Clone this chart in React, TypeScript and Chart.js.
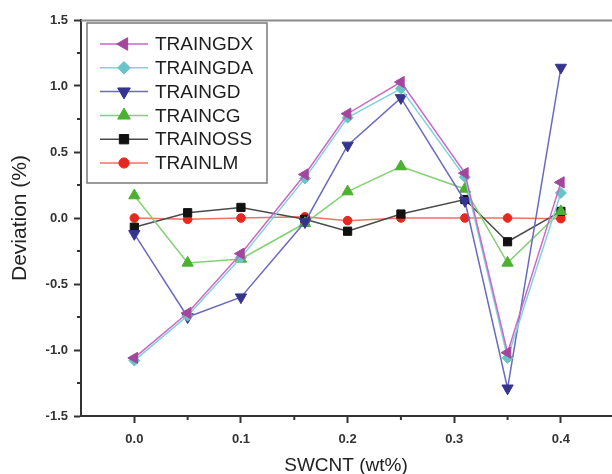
import React, { useEffect, useRef } from 'react';
import { Chart, registerables } from 'chart.js';
import { drawPoint } from 'chart.js/helpers';

Chart.register(...registerables);

// ---- data ----
const xValues = [0, 0.05, 0.1, 0.16, 0.2, 0.25, 0.31, 0.35, 0.4];
const traingdx = [-1.06, -0.72, -0.27, 0.33, 0.79, 1.03, 0.34, -1.02, 0.27];
const traingda = [-1.08, -0.74, -0.3, 0.3, 0.76, 0.98, 0.31, -1.06, 0.19];
const traingd = [-0.12, -0.75, -0.6, -0.03, 0.55, 0.91, 0.13, -1.29, 1.14];
const traincg = [0.17, -0.34, -0.31, -0.04, 0.2, 0.39, 0.22, -0.34, 0.05];
const trainoss = [-0.07, 0.04, 0.08, -0.01, -0.1, 0.03, 0.14, -0.18, 0.05];
const trainlm = [0.0, -0.01, 0.0, 0.01, -0.02, 0.0, 0.0, 0.0, -0.005];

const xMajorTicks = [0, 0.1, 0.2, 0.3, 0.4];
const xMinorTicks = [0.05, 0.15, 0.25, 0.35];
const yMajorTicks = [-1.5, -1.0, -0.5, 0, 0.5, 1.0, 1.5];
const yMinorTicks = [-1.25, -0.75, -0.25, 0.25, 0.75, 1.25];

const xTitle = 'SWCNT (wt%)';
const yTitle = 'Deviation (%)';

const FONT = "'Liberation Sans', Arial, Helvetica, sans-serif";

const seriesDefs = [
  { label: 'TRAINGDX', values: traingdx, line: '#cc66c8', marker: '#a4469c', style: 'triangle', rotation: 270, radius: 6.5 },
  { label: 'TRAINGDA', values: traingda, line: '#7ed2da', marker: '#68c4c8', style: 'rectRot', rotation: 0, radius: 5.5 },
  { label: 'TRAINGD', values: traingd, line: '#6a6ac0', marker: '#35358f', style: 'triangle', rotation: 180, radius: 6.5 },
  { label: 'TRAINCG', values: traincg, line: '#84d074', marker: '#4cb032', style: 'triangle', rotation: 0, radius: 6.5 },
  { label: 'TRAINOSS', values: trainoss, line: '#4a4a4a', marker: '#111111', style: 'rect', rotation: 0, radius: 5.8 },
  { label: 'TRAINLM', values: trainlm, line: '#f07262', marker: '#e8281e', style: 'circle', rotation: 0, radius: 4.3 },
];

const frameAndLegendPlugin = {
  id: 'frameAndLegend',
  afterDraw(chart: any) {
    const ctx = chart.ctx;
    const area = chart.chartArea;
    const xs = chart.scales.x;
    const ys = chart.scales.y;
    ctx.save();
    // top frame line
    ctx.strokeStyle = '#8a8a8a';
    ctx.lineWidth = 2;
    ctx.beginPath();
    ctx.moveTo(area.left, area.top + 0.5);
    ctx.lineTo(chart.width, area.top + 0.5);
    ctx.stroke();
    // minor ticks
    ctx.strokeStyle = '#333';
    ctx.lineWidth = 2;
    xMinorTicks.forEach((v) => {
      const px = xs.getPixelForValue(v);
      ctx.beginPath();
      ctx.moveTo(px, area.bottom);
      ctx.lineTo(px, area.bottom + 4);
      ctx.stroke();
    });
    yMinorTicks.forEach((v) => {
      const py = ys.getPixelForValue(v);
      ctx.beginPath();
      ctx.moveTo(area.left, py);
      ctx.lineTo(area.left - 4, py);
      ctx.stroke();
    });
    // legend box
    const x0 = area.left + 6;
    const y0 = area.top + 3;
    const w = 180;
    const h = 160;
    ctx.fillStyle = '#ffffff';
    ctx.fillRect(x0, y0, w, h);
    ctx.strokeStyle = '#7a7a7a';
    ctx.lineWidth = 1.5;
    ctx.strokeRect(x0, y0, w, h);
    chart.data.datasets.forEach((ds: any, i: number) => {
      const cy = y0 + 21 + i * 23.8;
      ctx.strokeStyle = ds.borderColor;
      ctx.lineWidth = 1.5;
      ctx.beginPath();
      ctx.moveTo(x0 + 13, cy);
      ctx.lineTo(x0 + 61, cy);
      ctx.stroke();
      ctx.fillStyle = ds.pointBackgroundColor;
      ctx.strokeStyle = ds.pointBorderColor;
      ctx.lineWidth = 1;
      drawPoint(ctx, { pointStyle: ds.pointStyle, rotation: ds.pointRotation, radius: ds.pointRadius + 0.8, borderWidth: 1 }, x0 + 37, cy);
      ctx.fillStyle = '#1e1e1e';
      ctx.font = `19px ${FONT}`;
      ctx.textAlign = 'left';
      ctx.textBaseline = 'middle';
      ctx.fillText(ds.label, x0 + 68, cy + 1);
    });
    ctx.restore();
  },
};

export default function App() {
  const canvasRef = useRef<HTMLCanvasElement | null>(null);

  useEffect(() => {
    if (!canvasRef.current) return;
    const datasets = seriesDefs.map((s) => ({
      label: s.label,
      data: xValues.map((x, i) => ({ x, y: s.values[i] })),
      borderColor: s.line,
      backgroundColor: s.marker,
      borderWidth: 1.5,
      pointStyle: s.style,
      pointRotation: s.rotation,
      pointRadius: s.radius,
      pointBackgroundColor: s.marker,
      pointBorderColor: s.marker,
      pointBorderWidth: 1,
      tension: 0,
      fill: false,
      clip: false as any,
    }));

    const chart = new Chart(canvasRef.current, {
      type: 'line',
      data: { datasets },
      options: {
        animation: false,
        responsive: false,
        maintainAspectRatio: false,
        layout: { autoPadding: false, padding: { top: 20, right: 1, left: 0, bottom: 0 } },
        plugins: { legend: { display: false }, tooltip: { enabled: false } },
        scales: {
          x: {
            type: 'linear',
            min: -0.05,
            max: 0.447,
            afterBuildTicks: (s: any) => {
              s.ticks = xMajorTicks.map((v) => ({ value: v }));
            },
            afterFit: (s: any) => {
              s.height = 58;
              s.paddingLeft = 0;
              s.paddingRight = 0;
            },
            grid: { display: true, drawOnChartArea: false, drawTicks: true, tickLength: 7, tickWidth: 2, tickColor: '#333' },
            border: { display: true, color: '#333', width: 2 },
            ticks: {
              padding: 9,
              color: '#333',
              autoSkip: false,
              maxRotation: 0,
              font: { family: FONT, size: 13, weight: 'bold' },
              callback: (v: any) => Number(v).toFixed(1),
            },
            title: {
              display: true,
              text: xTitle,
              color: '#222',
              font: { family: FONT, size: 19 },
              padding: { top: 0, bottom: -3 },
            },
          },
          y: {
            type: 'linear',
            min: -1.5,
            max: 1.5,
            afterBuildTicks: (s: any) => {
              s.ticks = yMajorTicks.map((v) => ({ value: v }));
            },
            afterFit: (s: any) => {
              s.width = 81;
              s.paddingTop = 0;
              s.paddingBottom = 0;
            },
            grid: { display: true, drawOnChartArea: false, drawTicks: true, tickLength: 7, tickWidth: 2, tickColor: '#333' },
            border: { display: true, color: '#333', width: 2 },
            ticks: {
              padding: 6,
              color: '#333',
              font: { family: FONT, size: 13, weight: 'bold' },
              callback: (v: any) => Number(v).toFixed(1),
            },
            title: {
              display: true,
              text: yTitle,
              color: '#222',
              font: { family: FONT, size: 21 },
              padding: { top: 8, bottom: 0 },
            },
          },
        },
      },
      plugins: [frameAndLegendPlugin],
    } as any);
    return () => chart.destroy();
  }, []);

  return (
    <div style={{ position: 'absolute', left: 0, top: 0, width: 612, height: 474, background: '#fff' }}>
      <canvas ref={canvasRef} width={612} height={474} style={{ width: 612, height: 474, display: 'block' }} />
    </div>
  );
}
